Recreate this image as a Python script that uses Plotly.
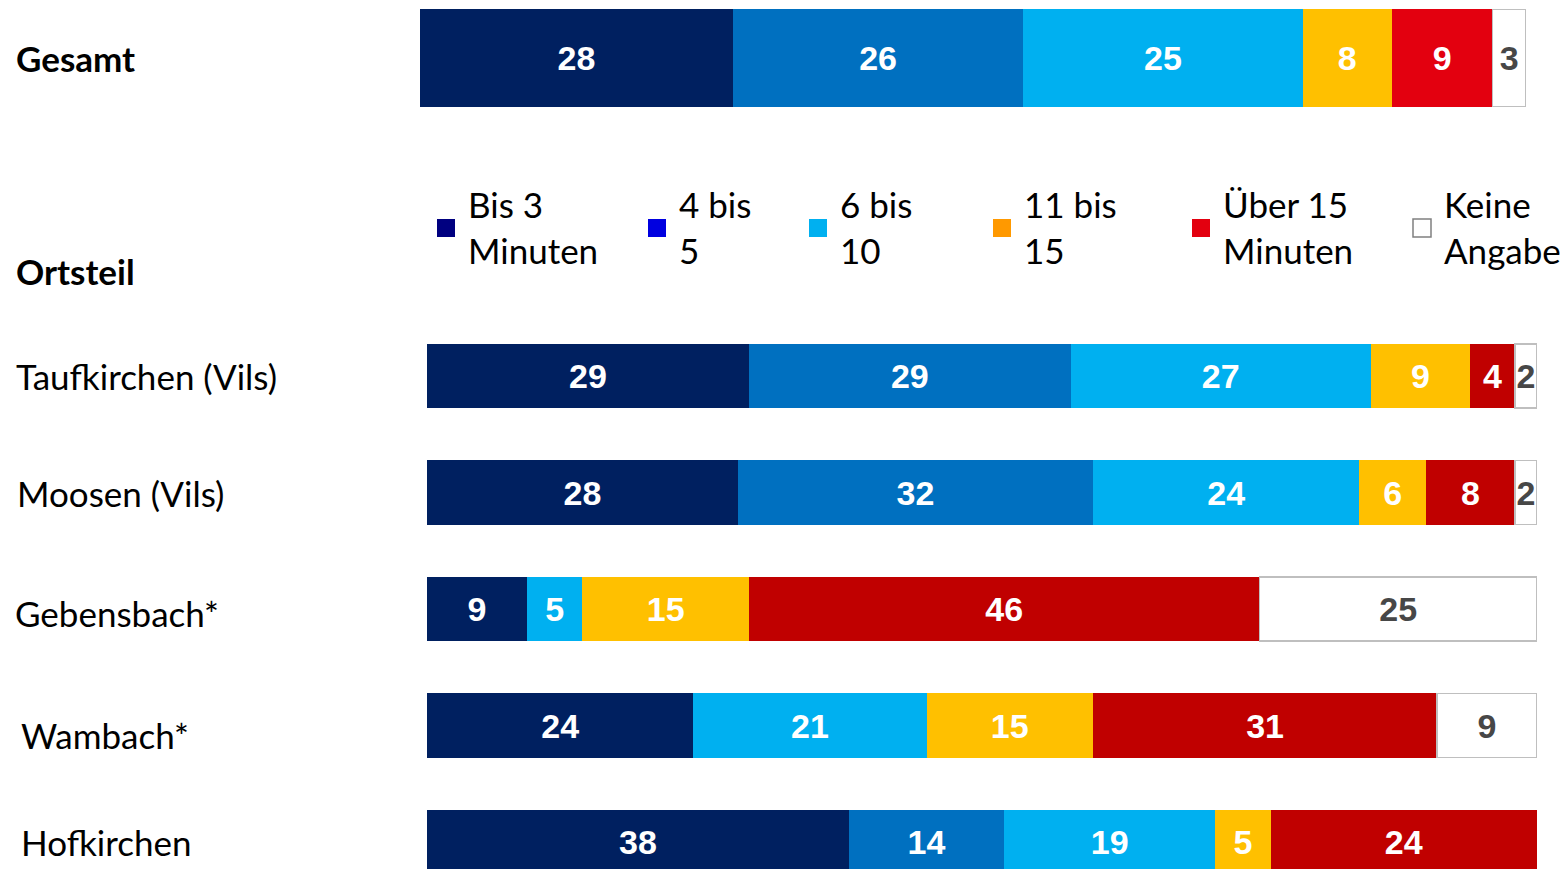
import plotly.graph_objects as go

W, H = 1564, 869

# ---------------- data ----------------
series = ["Bis 3 Minuten", "4 bis 5", "6 bis 10", "11 bis 15", "Über 15 Minuten", "Keine Angabe"]
legend_labels = ["Bis 3<br>Minuten", "4 bis<br>5", "6 bis<br>10", "11 bis<br>15", "Über 15<br>Minuten", "Keine<br>Angabe"]

gesamt_label = "Gesamt"
gesamt_values = [28, 26, 25, 8, 9, 3]

ortsteil_title = "Ortsteil"
orte = ["Taufkirchen (Vils)", "Moosen (Vils)", "Gebensbach*", "Wambach*", "Hofkirchen"]
bis3 = [29, 28, 9, 24, 38]
bis5 = [29, 32, None, None, 14]
bis10 = [27, 24, 5, 21, 19]
bis15 = [9, 6, 15, 15, 5]
ueber15 = [4, 8, 46, 31, 24]
keine = [2, 2, 25, 9, None]
ort_values = [bis3, bis5, bis10, bis15, ueber15, keine]

# ---------------- styles ----------------
bar_colors_gesamt = ["#002060", "#0070C0", "#00B0F0", "#FFC000", "#E3000F", "#FFFFFF"]
bar_colors_ort = ["#002060", "#0070C0", "#00B0F0", "#FFC000", "#C00000", "#FFFFFF"]
legend_colors = ["#000080", "#0000E0", "#00B0F0", "#FF9900", "#E3000F", "#FFFFFF"]
text_colors = ["white", "white", "white", "white", "white", "#474747"]

NUM_FONT = "Liberation Sans, Arial, sans-serif"
LBL_FONT = "Lato, Noto Sans, sans-serif"
NUM_SIZE = 34
LBL_SIZE = 35


def px_x(x):
    return x / W


def px_y(y):
    return 1 - y / H


fig = go.Figure()

for i, name in enumerate(series):
    v = gesamt_values[i]
    fig.add_trace(go.Bar(
        x=[v], y=[0], orientation="h", name=name,
        marker=dict(color=bar_colors_gesamt[i],
                    line=dict(color="#BFBFBF" if i == 5 else bar_colors_gesamt[i], width=1.5 if i == 5 else 0)),
        width=1,
        text=[str(v)], textposition="inside", insidetextanchor="middle",
        constraintext="none",
        textfont=dict(family=NUM_FONT, size=NUM_SIZE, color=text_colors[i], weight="bold"),
        xaxis="x", yaxis="y", showlegend=False, hoverinfo="skip",
    ))

rows = list(range(len(orte)))
for i, name in enumerate(series):
    vals = ort_values[i]
    fig.add_trace(go.Bar(
        x=vals, y=rows, orientation="h", name=name,
        marker=dict(color=bar_colors_ort[i],
                    line=dict(color="#BFBFBF" if i == 5 else bar_colors_ort[i], width=1.5 if i == 5 else 0)),
        width=0.55,
        text=[("" if v is None else str(v)) for v in vals],
        textposition="inside", insidetextanchor="middle",
        constraintext="none",
        textfont=dict(family=NUM_FONT, size=NUM_SIZE, color=text_colors[i], weight="bold"),
        xaxis="x2", yaxis="y2", showlegend=False, hoverinfo="skip",
    ))

# axes: Gesamt row (top) and Ortsteil rows
row0_center, row_step = 376, 116.5
top_px = row0_center - row_step / 2
bottom_val = (H - row0_center) / row_step

annotations = []
shapes = []

# left labels
annotations.append(dict(text="<b>" + gesamt_label + "</b>", x=px_x(14), y=px_y(58), xref="paper", yref="paper",
                        xanchor="left", yanchor="middle", showarrow=False,
                        font=dict(family=LBL_FONT, size=LBL_SIZE, color="black")))
annotations.append(dict(text="<b>" + ortsteil_title + "</b>", x=px_x(14), y=px_y(271), xref="paper", yref="paper",
                        xanchor="left", yanchor="middle", showarrow=False,
                        font=dict(family=LBL_FONT, size=LBL_SIZE, color="black")))
label_dx = [14, 15, 13, 19, 19]
label_dy = [0, 0, 4, 9, 0]
for r, name in enumerate(orte):
    annotations.append(dict(text=name, x=px_x(label_dx[r]), y=r, xref="paper", yref="y2",
                            yshift=-label_dy[r], xanchor="left", yanchor="middle", showarrow=False,
                            font=dict(family=LBL_FONT, size=LBL_SIZE, color="black")))

# legend (manual)
legend_marker_x = [437, 648, 809, 993, 1192, 1413]
legend_cy = 228
msz = 18
for i, lab in enumerate(legend_labels):
    x0 = legend_marker_x[i]
    shapes.append(dict(type="rect", xref="paper", yref="paper",
                       x0=px_x(x0), x1=px_x(x0 + msz), y0=px_y(legend_cy + msz / 2), y1=px_y(legend_cy - msz / 2),
                       fillcolor=legend_colors[i],
                       line=dict(color="#808080" if i == 5 else legend_colors[i], width=1.5 if i == 5 else 0)))
    annotations.append(dict(text=lab, x=px_x(x0 + msz + 11), y=px_y(legend_cy - 1), xref="paper", yref="paper",
                            xanchor="left", yanchor="middle", align="left", showarrow=False,
                            font=dict(family=LBL_FONT, size=LBL_SIZE, color="black")))

fig.update_layout(
    width=W, height=H,
    margin=dict(l=0, r=0, t=0, b=0),
    paper_bgcolor="white", plot_bgcolor="white",
    barmode="stack", showlegend=False,
    xaxis=dict(domain=[px_x(420), px_x(1526)], range=[0, sum(gesamt_values)], visible=False, fixedrange=True),
    yaxis=dict(domain=[px_y(107), px_y(9)], range=[-0.5, 0.5], visible=False, fixedrange=True),
    xaxis2=dict(domain=[px_x(427), px_x(1537)], range=[0, 100], visible=False, anchor="y2", fixedrange=True),
    yaxis2=dict(domain=[0, px_y(top_px)], range=[bottom_val, -0.5], visible=False, anchor="x2", fixedrange=True),
    annotations=annotations, shapes=shapes,
)

fig.write_html("out.html", config={"displayModeBar": False})

# remove the default page margin so the figure sits at the window's top-left corner
with open("out.html", "r", encoding="utf-8") as f:
    html = f.read()
html = html.replace("<body>", '<body style="margin:0;padding:0;overflow:hidden">', 1)
with open("out.html", "w", encoding="utf-8") as f:
    f.write(html)
